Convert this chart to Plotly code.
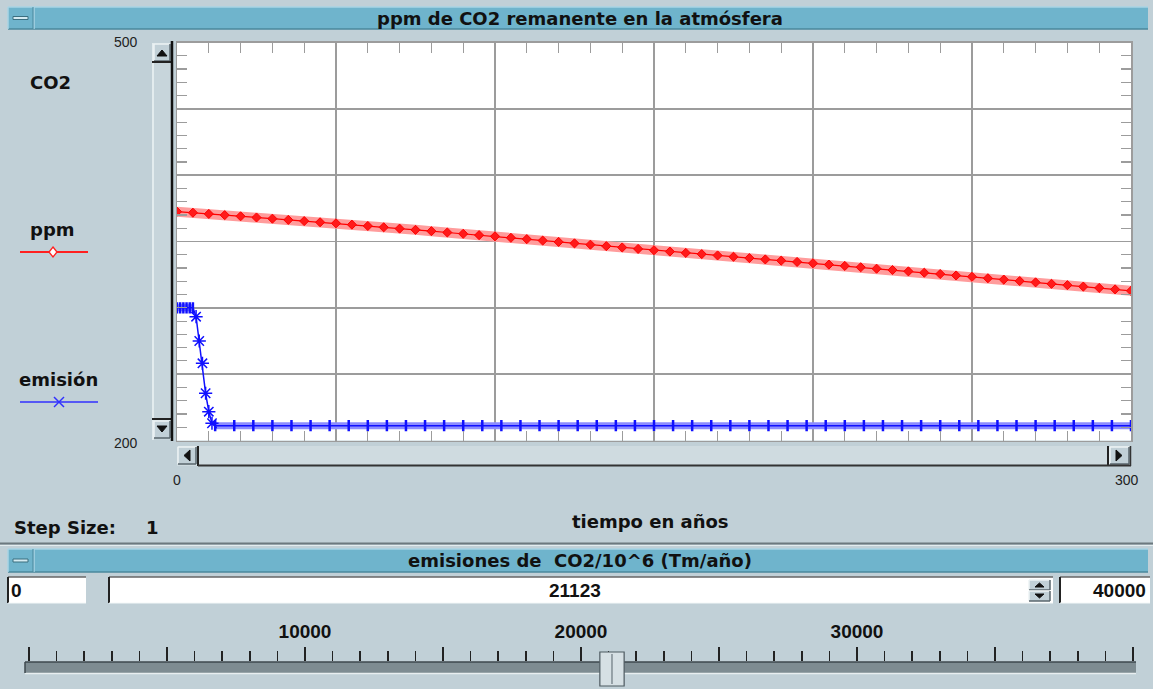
import plotly.graph_objects as go

W, H = 1153, 689

# ---------------- data ----------------
title_main = "ppm de CO2 remanente en la atmósfera"
title_slider = "emisiones de  CO2/10^6 (Tm/año)"
x_title = "tiempo en años"
group_label = "CO2"
series_names = ["ppm", "emisión"]
step_label = "Step Size:"
step_value = "1"

x_range = [0, 300]
y_range = [200, 500]

ppm_years = [0, 5, 10, 15, 20, 25, 30, 35, 40, 45, 50, 55, 60, 65, 70, 75, 80, 85, 90, 95,
             100, 105, 110, 115, 120, 125, 130, 135, 140, 145, 150, 155, 160, 165, 170, 175,
             180, 185, 190, 195, 200, 205, 210, 215, 220, 225, 230, 235, 240, 245, 250, 255,
             260, 265, 270, 275, 280, 285, 290, 295, 300]
ppm_values = [372.5, 371.7, 370.8, 369.9, 369.0, 368.1, 367.2, 366.3, 365.4, 364.5,
              363.7, 362.7, 361.7, 360.7, 359.7, 358.8, 357.8, 356.8, 355.8, 354.8,
              353.9, 352.8, 351.8, 350.7, 349.7, 348.6, 347.6, 346.5, 345.5, 344.4,
              343.4, 342.4, 341.4, 340.5, 339.5, 338.5, 337.5, 336.5, 335.6, 334.6,
              333.6, 332.6, 331.6, 330.6, 329.5, 328.5, 327.5, 326.5, 325.5, 324.4,
              323.4, 322.3, 321.3, 320.2, 319.2, 318.1, 317.1, 316.0, 315.0, 313.9,
              312.8]

emis_years = [0, 1, 2, 3, 4, 5, 6, 7, 8, 9, 10, 11, 12,
              18, 24, 30, 36, 42, 48, 54, 60, 66, 72, 78, 84, 90, 96, 102, 108, 114, 120,
              126, 132, 138, 144, 150, 156, 162, 168, 174, 180, 186, 192, 198, 204, 210,
              216, 222, 228, 234, 240, 246, 252, 258, 264, 270, 276, 282, 288, 294, 300]
emis_values = [300, 300, 300, 300, 300, 300, 293.3, 275.0, 258.2, 235.6, 221.7, 213.0, 211.2,
               211.2, 211.2, 211.2, 211.2, 211.2, 211.2, 211.2, 211.2, 211.2, 211.2, 211.2,
               211.2, 211.2, 211.2, 211.2, 211.2, 211.2, 211.2, 211.2, 211.2, 211.2, 211.2,
               211.2, 211.2, 211.2, 211.2, 211.2, 211.2, 211.2, 211.2, 211.2, 211.2, 211.2,
               211.2, 211.2, 211.2, 211.2, 211.2, 211.2, 211.2, 211.2, 211.2, 211.2, 211.2,
               211.2, 211.2, 211.2, 211.2]

slider_min, slider_max, slider_value = 0, 40000, 21123
slider_tick_vals = [0, 5000, 10000, 15000, 20000, 25000, 30000, 35000, 40000]
slider_tick_text = ["", "", "10000", "", "20000", "", "30000", "", ""]

# ---------------- styling helpers ----------------
BG = "#C1D0D7"
BAR = "#6FB4CC"
LIGHT = "#EDF3F5"
DARK = "#58666C"
GRID = "#9C9C9C"
RED = "#FF0000"
BLUE = "#1010FF"
BOLD = "DejaVu Sans"
REG = "Liberation Sans, Arial"


def X(p):
    return p / W


def Y(p):
    return 1 - p / H


shapes = []
annotations = []


def rect(x0, y0, x1, y1, fill, line=None, lw=1):
    shapes.append(dict(type="rect", xref="paper", yref="paper", x0=X(x0), x1=X(x1),
                       y0=Y(y1), y1=Y(y0), fillcolor=fill,
                       line=dict(color=line if line else "rgba(0,0,0,0)", width=lw if line else 0),
                       layer="above"))


def seg(x0, y0, x1, y1, color, w=1):
    shapes.append(dict(type="line", xref="paper", yref="paper", x0=X(x0), x1=X(x1),
                       y0=Y(y0), y1=Y(y1), line=dict(color=color, width=w), layer="above"))


def poly(pts, fill, line=None, lw=1):
    d = "M " + " L ".join(f"{X(a):.5f},{Y(b):.5f}" for a, b in pts) + " Z"
    shapes.append(dict(type="path", xref="paper", yref="paper", path=d, fillcolor=fill,
                       line=dict(color=line if line else fill, width=lw), layer="above"))


def bevel(x0, y0, x1, y1, fill=BG, raised=True):
    rect(x0, y0, x1, y1, fill)
    a, b = (LIGHT, DARK) if raised else (DARK, LIGHT)
    seg(x0, y0, x1, y0, a, 1.5)
    seg(x0, y0, x0, y1, a, 1.5)
    seg(x0, y1, x1, y1, b, 1.5)
    seg(x1, y0, x1, y1, b, 1.5)


def text(x, y, s, size=18, bold=True, anchor="center", color="#111111", family=None):
    annotations.append(dict(x=X(x), y=Y(y), xref="paper", yref="paper", text=s, showarrow=False,
                            xanchor=anchor, yanchor="middle",
                            font=dict(family=family or (BOLD if bold else REG), size=size,
                                      color=color, weight=700 if bold else 400)))


def title_bar(y0, y1, label):
    rect(8, y0, 1148, y1, BAR)
    seg(8, y0, 1148, y0, "#A9D5E4", 1.5)
    seg(8, y1, 1148, y1, "#4A889D", 1.5)
    seg(34, y0, 34, y1, "#A9D5E4", 1.5)
    seg(33, y0, 33, y1, "#4A889D", 1)
    seg(8, y0, 8, y1, "#A9D5E4", 1.5)
    cy = (y0 + y1) / 2
    rect(13, cy - 1.5, 28, cy + 1.5, "#D4EBF2", "#3B6E7F", 1)
    text(580, cy, label, size=18)


# ---------------- GUI decoration ----------------
title_bar(7, 29, title_main)
title_bar(549, 572, title_slider)

# vertical scrollbar
rect(152, 43, 172, 440, "#C7D5DB")
seg(153, 43, 153, 440, LIGHT, 1.5)
bevel(154, 44, 170, 61)
seg(152, 62, 172, 62, "#222222", 2)
poly([(157, 56), (167, 56), (162, 50)], "#111111")
bevel(154, 421, 170, 438)
seg(152, 419, 172, 419, "#222222", 2)
poly([(157, 426), (167, 426), (162, 432)], "#111111")
seg(172, 41, 172, 441, "#111111", 2.5)

# horizontal scrollbar
rect(177, 446, 1131, 466, "#CFDBE0")
bevel(178, 447, 196, 464)
poly([(190, 450), (190, 461), (184, 455.5)], "#111111")
seg(198, 446, 198, 466, "#222222", 2)
bevel(1110, 447, 1129, 464)
poly([(1116, 450), (1116, 461), (1122, 455.5)], "#111111")
seg(1108, 446, 1108, 466, "#222222", 2)
seg(198, 465.5, 1131, 465.5, "#333333", 2)
seg(1130.5, 446, 1130.5, 466, "#333333", 1.5)

# separator between panels
seg(0, 543.5, W, 543.5, "#6C797F", 2)
seg(0, 545.5, W, 545.5, "#E3ECEF", 1)

# text fields
for fx0, fx1 in [(8, 86), (109, 1053), (1060, 1150)]:
    rect(fx0, 577, fx1, 603, "#FFFFFF")
    seg(fx0, 577, fx1, 577, "#666666", 1.5)
    seg(fx0, 577, fx0, 603, "#222222", 2)
    seg(fx0, 603, fx1, 603, "#F4F8F9", 1)
bevel(1029, 580, 1050, 590)
poly([(1035, 587), (1044, 587), (1039.5, 583)], "#111111")
bevel(1029, 591, 1050, 601)
poly([(1035, 594), (1044, 594), (1039.5, 598)], "#111111")
text(9, 590, str(slider_min), size=19, anchor="left", family=REG)
text(575, 590, str(slider_value), size=19, family=REG)
text(1148, 590, str(slider_max), size=19, anchor="right", family=REG)

# slider track and thumb
rect(25, 662, 1136, 673, "#7E8C92")
seg(25, 662, 1136, 662, "#3E494E", 1.5)
seg(25, 673.5, 1136, 673.5, "#E8EEF0", 1.5)
seg(25, 662, 25, 673, "#3E494E", 1.5)
half = 440
shapes.append(dict(type="rect", xref="x2", yref="paper", x0=slider_value - half,
                   x1=slider_value + half, y0=Y(686), y1=Y(652), fillcolor="#D6E0E4",
                   line=dict(color="#4D5A60", width=1.2), layer="above"))
shapes.append(dict(type="line", xref="x2", yref="paper", x0=slider_value, x1=slider_value,
                   y0=Y(684), y1=Y(654), line=dict(color="#6B787E", width=1.2), layer="above"))

# left legend / labels
text(50, 82, group_label)
text(52, 229, series_names[0])
seg(20, 252, 88, 252, "#FF2020", 2)
poly([(53, 247), (57, 252), (53, 257), (49, 252)], "#FFFFFF", "#FF2020", 1.3)
text(58, 379, series_names[1])
seg(20, 402, 98, 402, "#3030FF", 1.5)
seg(54, 397, 64, 407, "#3030FF", 1.5)
seg(54, 407, 64, 397, "#3030FF", 1.5)

# axis end labels
annotations.append(dict(x=X(126), y=y_range[1], xref="paper", yref="y", text=str(y_range[1]),
                        showarrow=False, xanchor="center", yanchor="middle",
                        font=dict(family=REG, size=14, color="#222222")))
annotations.append(dict(x=X(126), y=y_range[0], xref="paper", yref="y", text=str(y_range[0]),
                        showarrow=False, xanchor="center", yanchor="middle", yshift=-2,
                        font=dict(family=REG, size=14, color="#222222")))
annotations.append(dict(x=x_range[0], y=Y(480), xref="x", yref="paper", text=str(x_range[0]),
                        showarrow=False, xanchor="center", yanchor="middle",
                        font=dict(family=REG, size=14, color="#222222")))
annotations.append(dict(x=x_range[1], y=Y(480), xref="x", yref="paper", text=str(x_range[1]),
                        showarrow=False, xanchor="center", yanchor="middle", xshift=-4,
                        font=dict(family=REG, size=14, color="#222222")))

text(12, 527, step_label, anchor="left")
text(152, 527, step_value)
text(650, 521, x_title)

# ---------------- traces ----------------
fig = go.Figure()

fig.add_trace(go.Scatter(x=ppm_years, y=ppm_values, mode="lines",
                         line=dict(color="#FF9C9C", width=10), hoverinfo="skip",
                         showlegend=False))
fig.add_trace(go.Scatter(x=ppm_years, y=ppm_values, mode="lines+markers", name=series_names[0],
                         line=dict(color=RED, width=1.2),
                         marker=dict(symbol="diamond", size=7, color="#FF1A1A",
                                     line=dict(color=RED, width=1)),
                         showlegend=False))

# emission band on the flat stretches
band_x, band_y = [], []
for i, (xx, yy) in enumerate(zip(emis_years, emis_values)):
    flat = (i > 0 and emis_values[i - 1] == yy) or (i + 1 < len(emis_values) and emis_values[i + 1] == yy)
    if flat:
        band_x.append(xx)
        band_y.append(yy)
    elif band_x and band_x[-1] is not None:
        band_x.append(None)
        band_y.append(None)
fig.add_trace(go.Scatter(x=band_x, y=band_y, mode="lines", connectgaps=False,
                         line=dict(color="#8C8CFF", width=7), hoverinfo="skip",
                         showlegend=False))
fig.add_trace(go.Scatter(x=emis_years, y=emis_values, mode="lines", name=series_names[1],
                         line=dict(color=BLUE, width=1.5), showlegend=False))
drop_x = [x for i, x in enumerate(emis_years) if 5 < i < 12]
drop_y = [y for i, y in enumerate(emis_values) if 5 < i < 12]
flat_x = [x for i, x in enumerate(emis_years) if not (5 < i < 12)]
flat_y = [y for i, y in enumerate(emis_values) if not (5 < i < 12)]
fig.add_trace(go.Scatter(x=drop_x, y=drop_y, mode="markers",
                         marker=dict(symbol="asterisk-open", size=11, color=BLUE,
                                     line=dict(color=BLUE, width=1.5)),
                         showlegend=False))
fig.add_trace(go.Scatter(x=flat_x, y=flat_y, mode="markers",
                         marker=dict(symbol="line-ns-open", size=8, color=BLUE,
                                     line=dict(color=BLUE, width=2.5)),
                         showlegend=False))

# slider axis carrier (invisible point)
fig.add_trace(go.Scatter(x=[slider_value], y=[0.5], xaxis="x2", yaxis="y2", mode="markers",
                         marker=dict(size=1, color="rgba(0,0,0,0)"), hoverinfo="skip",
                         showlegend=False))

axis_common = dict(showgrid=True, gridcolor=GRID, gridwidth=1.5, ticks="inside", ticklen=10,
                   tickcolor=GRID, tickwidth=1.2, showticklabels=False, showline=True,
                   linecolor=GRID, linewidth=1.5, mirror="ticks", zeroline=False,
                   fixedrange=True, dtick=50, tick0=0,
                   minor=dict(dtick=10, ticks="inside", ticklen=10, tickcolor=GRID,
                              tickwidth=1.2, showgrid=False))

fig.update_layout(
    width=W, height=H, autosize=False,
    margin=dict(l=0, r=0, t=0, b=0, pad=0),
    paper_bgcolor=BG, plot_bgcolor="#FFFFFF",
    showlegend=False,
    xaxis=dict(domain=[X(177), X(1131)], range=x_range, anchor="y", **axis_common),
    yaxis=dict(domain=[Y(440.5), Y(42.5)], range=y_range, anchor="x", **axis_common),
    xaxis2=dict(domain=[X(29), X(1133)], range=[slider_min, slider_max], anchor="y2",
                side="top", tickmode="array", tickvals=slider_tick_vals,
                ticktext=slider_tick_text, ticks="outside", ticklen=14, tickwidth=1.5,
                tickcolor="#222222", ticklabelstandoff=1,
                minor=dict(tickmode="linear", dtick=1000, tick0=0, ticks="outside",
                           ticklen=10, tickwidth=1.5, tickcolor="#222222", showgrid=False),
                showgrid=False, zeroline=False, showline=False, fixedrange=True,
                tickfont=dict(family=REG, size=19, color="#111111", weight=700)),
    yaxis2=dict(domain=[Y(673), Y(662)], range=[0, 1], anchor="x2", visible=False,
                fixedrange=True),
    shapes=shapes,
    annotations=annotations,
    hovermode=False,
)

fig.write_html("out.html", config={"displayModeBar": False, "staticPlot": True},
               post_script="document.body.style.margin='0';document.body.style.overflow='hidden';")
